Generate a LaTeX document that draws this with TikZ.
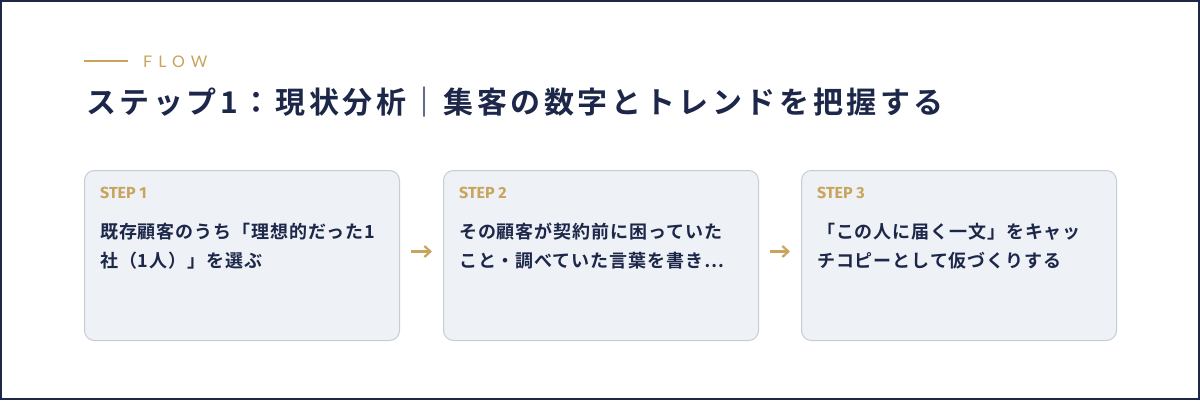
\documentclass[tikz,border=0pt]{standalone}
\usepackage{fontspec}
\usetikzlibrary{arrows.meta}
\newfontfamily\jptitle[LetterSpace=12]{Noto Sans CJK JP Bold}
\newfontfamily\jpbody[LetterSpace=5]{Noto Sans CJK JP Bold}
\newfontfamily\flowfont[LetterSpace=38]{Lato}
\newfontfamily\stepfont{Fira Sans}
\definecolor{navy}{HTML}{1C2749}
\definecolor{gold}{HTML}{C9A45C}
\definecolor{boxfill}{HTML}{EEF1F6}
\definecolor{boxline}{HTML}{C6CBD6}
\tikzset{
  stepbox/.style={draw=boxline, fill=boxfill, line width=1pt, rounded corners=10pt,
    minimum width=315pt, minimum height=170pt, anchor=north west, inner sep=0pt},
  steplabel/.style={anchor=base west, inner sep=0pt, text=gold, font=\stepfont\bfseries\fontsize{16}{18}\selectfont},
  steptext/.style={anchor=base west, inner sep=0pt, text=navy, align=left,
    font=\jpbody\fontsize{18}{29}\selectfont},
  flowarrow/.style={draw=gold, line width=2.2pt, -{Straight Barb[length=6pt,width=11pt,line width=2.2pt]},
    shorten <=11pt, shorten >=11pt}
}
\begin{document}
\begin{tikzpicture}[x=1pt,y=-1pt]
\useasboundingbox (0,0) rectangle (1200,400);
\fill[white] (0,0) rectangle (1200,400);
\draw[navy, line width=2pt] (1,1) rectangle (1199,399);
% header
\coordinate (fl1) at (84,61);
\coordinate (fl2) at (128,61);
\draw[gold, line width=2pt] (fl1) -- (fl2);
\node[anchor=base west, inner sep=0pt, text=gold, font=\flowfont\fontsize{16}{18}\selectfont] (flow) at (143,67) {FLOW};
\node[anchor=base west, inner sep=0pt, text=navy, font=\jptitle\fontsize{30}{34}\selectfont] (title) at (86,113)
  {ステップ1：現状分析｜集客の数字とトレンドを把握する};
% boxes
\node[stepbox] (b1) at (84,170) {};
\node[stepbox] (b2) at (443,170) {};
\node[stepbox] (b3) at (801,170) {};
\node[steplabel] (s1) at (100,198) {STEP 1};
\node[steplabel] (s2) at (459,198) {STEP 2};
\node[steplabel] (s3) at (817,198) {STEP 3};
\node[steptext] (t1) at (100,267) {既存顧客のうち「理想的だった1\\社（1人）」を選ぶ};
\node[steptext] (t2) at (459,267) {その顧客が契約前に困っていた\\こと・調べていた言葉を書き…};
\node[steptext] (t3) at (817,267) {「この人に届く一文」をキャッ\\チコピーとして仮づくりする};
% arrows
\draw[flowarrow] ([yshift=4pt]b1.east) -- ([yshift=4pt]b2.west);
\draw[flowarrow] ([yshift=4pt]b2.east) -- ([yshift=4pt]b3.west);
\end{tikzpicture}
\end{document}
